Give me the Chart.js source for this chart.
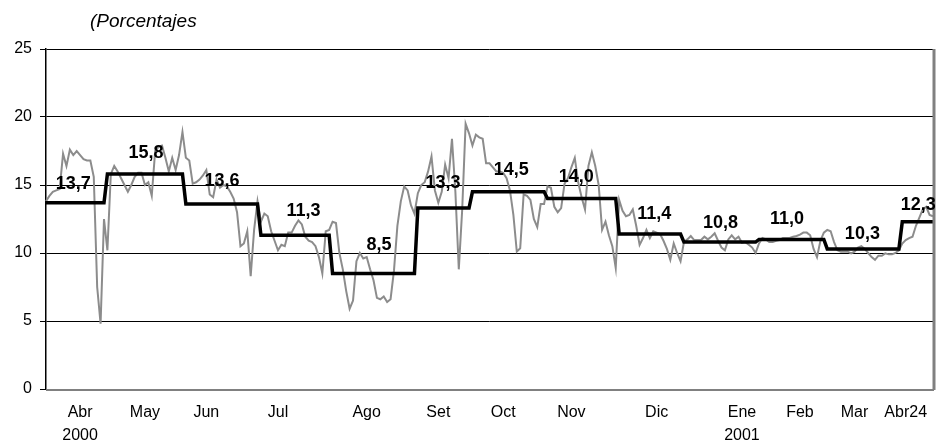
<!DOCTYPE html>
<html>
<head>
<meta charset="utf-8">
<script src="https://cdn.jsdelivr.net/npm/chart.js@4"></script>
<style>
  html, body { margin: 0; padding: 0; background: #fff; }
  #wrap { width: 942px; height: 441px; position: relative; }
</style>
</head>
<body>
<div id="wrap"><canvas id="c"></canvas></div>
<script>
// ---- DATA ----
const dailyRate = [
  // Abr 2000
  13.8,14.2,14.5,14.6,14.7,17.3,16.4,17.6,17.2,17.5,17.2,16.9,16.8,16.8,15.6,7.5,4.8,12.5,
  // May
  10.2,15.8,16.4,16.0,15.5,15.0,14.5,15.0,15.6,15.9,15.9,15.0,15.2,14.2,17.5,17.8,17.9,17.0,16.0,17.0,16.1,17.2,18.9,
  // Jun
  17.0,16.8,15.1,15.2,15.4,15.7,16.1,14.3,14.1,15.4,14.8,15.0,14.9,14.5,14.0,13.0,10.5,10.7,11.6,8.3,11.7,13.8,
  // Jul
  12.3,12.9,12.7,11.6,10.9,10.2,10.6,10.5,11.5,11.5,12.0,12.4,12.1,11.2,10.9,10.8,10.5,9.7,8.5,11.6,11.7,
  // Ago
  12.3,12.2,10.0,8.8,7.2,5.9,6.5,9.4,10.0,9.6,9.7,8.8,8.0,6.7,6.6,6.8,6.4,6.6,8.7,12.0,13.8,14.9,14.6,13.5,12.9,
  // Set
  14.4,15.0,15.2,16.0,17.1,14.6,13.7,14.5,16.5,15.5,18.4,14.5,8.8,13.2,19.5,18.8,
  // Oct
  17.9,18.7,18.5,18.4,16.6,16.6,16.3,16.0,16.0,15.9,15.5,14.6,12.8,10.1,10.35,14.3,14.2,13.9,12.5,11.9,13.6,13.6,
  // Nov
  14.9,14.8,13.4,13.0,13.3,15.1,15.5,16.3,17.0,15.2,14.1,13.2,16.4,17.4,16.4,15.0,11.7,12.3,11.3,10.5,8.9,
  // Dic
  13.9,13.1,12.7,12.8,13.2,12.0,10.6,11.1,11.7,11.1,11.6,11.5,11.4,10.9,10.3,9.5,10.7,10.0,9.4,
  // Ene 2001
  10.8,11.0,11.25,10.95,10.95,10.95,11.2,11.0,11.2,11.45,10.9,10.4,10.2,11.0,11.3,11.0,11.2,10.75,10.8,10.6,10.4,10.0,
  // Feb
  10.7,11.1,11.0,10.8,10.8,10.9,10.95,11.1,11.1,11.1,11.2,11.25,11.35,11.5,11.5,11.3,10.3,9.7,10.9,11.5,
  // Mar
  11.7,11.6,10.8,10.2,10.1,10.1,10.1,9.97,10.1,10.4,10.5,10.3,10.0,9.7,9.5,9.8,9.8,9.97,9.9,9.9,10.0,10.2,
  // Abr
  10.7,10.95,11.1,11.2,12.0,12.6,13.2,13.4,12.8,12.7
];
const monthAvg  = [13.7,15.8,13.6,11.3,8.5,13.3,14.5,14.0,11.4,10.8,11.0,10.3,12.3];
const monthDays = [18,23,22,21,25,16,22,21,19,22,20,22,10];
const monthLabelText = ['13,7','15,8','13,6','11,3','8,5','13,3','14,5','14,0','11,4','10,8','11,0','10,3','12,3'];
const tickLabels = [['Abr','2000'],['May'],['Jun'],['Jul'],['Ago'],['Set'],['Oct'],['Nov'],['Dic'],['Ene','2001'],['Feb'],['Mar'],['Abr24']];
const yTicks = [0,5,10,15,20,25];

// ---- LAYOUT (positions, not data) ----
const tickAt = [10,29,47,68,94,115,134,154,179,204,221,237,252];
const labelAt = [8,29.3,51.6,75.5,97.6,116.4,136.4,155.4,178.3,197.7,217.2,239.3,255.7];
const labelLift = [19,21,23,24,28,25,22,22,20,19,20,15,17];

// build step series from monthly averages
const stepSeries = [];
monthAvg.forEach((v, k) => { for (let d = 0; d < monthDays[k]; d++) stepSeries.push(v); });
const cats = dailyRate.map((_, i) => i);

const FONT = "'Liberation Sans', Arial, sans-serif";

const decor = {
  id: 'decor',
  afterDatasetsDraw(chart) {
    const { ctx, chartArea: a, scales: { x, y } } = chart;
    ctx.save();
    // right and bottom borders (grey)
    ctx.strokeStyle = '#808080';
    ctx.lineWidth = 3;
    ctx.beginPath();
    ctx.moveTo(a.right + 1, a.top);
    ctx.lineTo(a.right + 1, a.bottom + 1);
    ctx.stroke();
    ctx.lineWidth = 2;
    ctx.beginPath();
    ctx.moveTo(a.left, a.bottom + 1);
    ctx.lineTo(a.right + 1, a.bottom + 1);
    ctx.stroke();
    // value labels
    ctx.fillStyle = '#000';
    ctx.font = "bold 18px " + FONT;
    ctx.textAlign = 'center';
    ctx.textBaseline = 'middle';
    monthAvg.forEach((v, k) => {
      const px = x.getPixelForValue(labelAt[k]);
      const py = y.getPixelForValue(v) - labelLift[k];
      ctx.fillText(monthLabelText[k], px, py);
    });
    // caption
    ctx.font = "italic 19px " + FONT;
    ctx.textAlign = 'left';
    ctx.fillText('(Porcentajes', 90, 22);
    ctx.restore();
  }
};

new Chart(document.getElementById('c'), {
  type: 'line',
  data: {
    labels: cats,
    datasets: [
      {
        data: stepSeries,
        borderColor: '#000',
        borderWidth: 3.5,
        pointRadius: 0,
        tension: 0,
        order: 0
      },
      {
        data: dailyRate,
        borderColor: '#8c8c8c',
        borderWidth: 2,
        pointRadius: 0,
        tension: 0,
        order: 1
      }
    ]
  },
  options: {
    responsive: true,
    maintainAspectRatio: false,
    animation: false,
    layout: { padding: { top: 49, right: 9, left: 0, bottom: 0 } },
    plugins: { legend: { display: false }, tooltip: { enabled: false }, title: { display: false } },
    scales: {
      x: {
        type: 'category',
        offset: false,
        grid: { display: false },
        border: { display: false },
        afterFit(s) { s.height = 52; },
        ticks: {
          autoSkip: false,
          maxRotation: 0,
          minRotation: 0,
          padding: 4,
          color: '#000',
          font: { family: FONT, size: 16, lineHeight: 1.45 },
          callback(v, i) {
            const k = tickAt.indexOf(i);
            return k >= 0 ? tickLabels[k] : '';
          }
        }
      },
      y: {
        min: 0,
        max: 25,
        afterFit(s) { s.width = 46; },
        afterBuildTicks(s) { s.ticks = yTicks.map(v => ({ value: v })); },
        grid: { color: '#000', lineWidth: 1, tickLength: 6, drawTicks: true },
        border: { display: true, color: '#000', width: 1.5 },
        ticks: {
          padding: 8,
          color: '#000',
          font: { family: FONT, size: 16 }
        }
      }
    }
  },
  plugins: [decor]
});
</script>
</body>
</html>
